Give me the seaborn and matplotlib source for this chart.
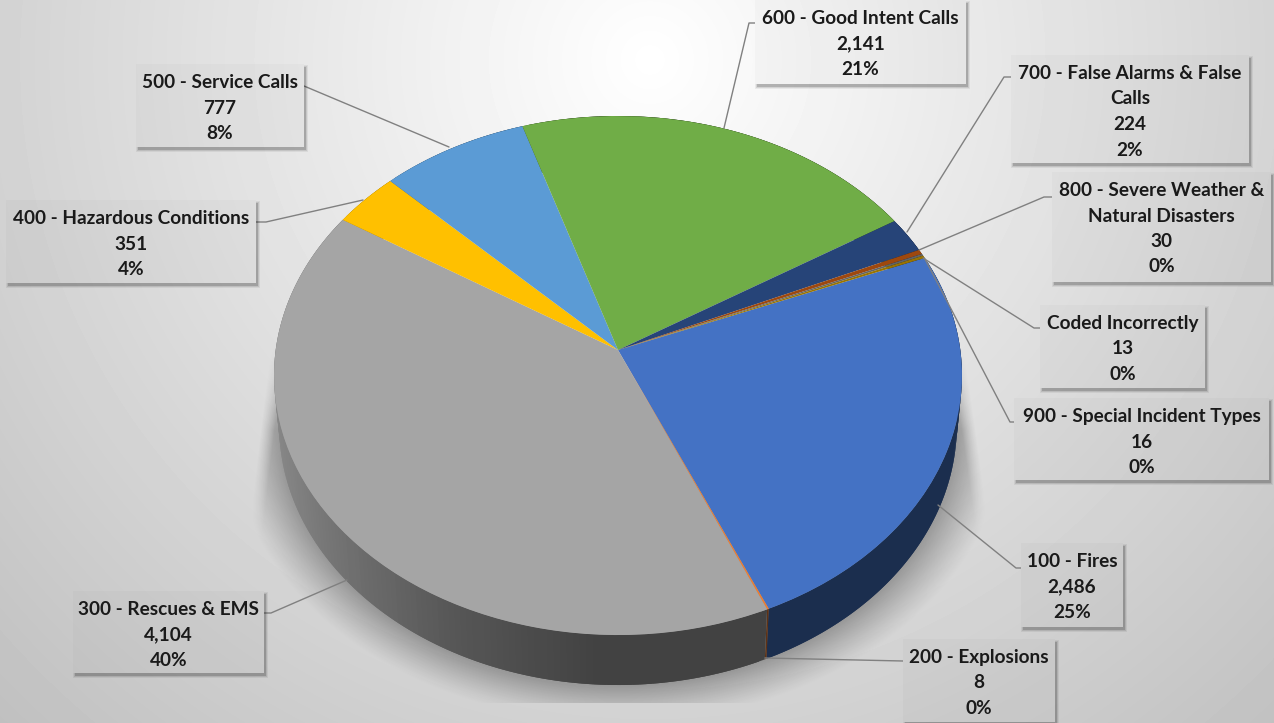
import numpy as np
import matplotlib
matplotlib.use("Agg")
import matplotlib.pyplot as plt
from matplotlib.patches import Rectangle
from matplotlib.transforms import Transform
import seaborn as sns

# Chart data, clockwise from the Fires slice
labels = [
    ["100 - Fires"],
    ["200 - Explosions"],
    ["300 - Rescues & EMS"],
    ["400 - Hazardous Conditions"],
    ["500 - Service Calls"],
    ["600 - Good Intent Calls"],
    ["700 - False Alarms & False", "Calls"],
    ["800 - Severe Weather &", "Natural Disasters"],
    ["Coded Incorrectly"],
    ["900 - Special Incident Types"],
]
values = [2486, 8, 4104, 351, 777, 2141, 224, 30, 13, 16]
percents = ["25%", "0%", "40%", "4%", "8%", "21%", "2%", "0%", "0%", "0%"]
colors = sns.color_palette(["#4472C4", "#ED7D31", "#A5A5A5", "#FFC000", "#5B9BD5",
                            "#70AD47", "#264478", "#9E480E", "#636363", "#997300"])

# Label boxes in pixels: left, top, right, bottom
boxes = [(1021, 543, 1123, 627), (903, 639, 1055, 722), (73, 591, 264, 673),
         (6, 200, 256, 283), (136, 64, 304, 147), (755, 0, 966, 84),
         (1011, 55, 1249, 163), (1052, 172, 1271, 282), (1040, 305, 1205, 388),
         (1014, 398, 1269, 480)]

# Leader lines in pixels
leaders = [[(1021, 568), (1016, 568), (938, 505)],
           [(903, 661), (765, 658)],
           [(264, 613), (271, 613), (347, 580)],
           [(256, 222), (266, 222), (363, 200)],
           [(304, 86), (449, 147)],
           [(755, 23), (749, 23), (724, 128)],
           [(1011, 77), (1004, 77), (907, 232)],
           [(1052, 197), (1044, 197), (919, 250)],
           [(1040, 328), (1034, 328), (923, 258)],
           [(1014, 422), (1010, 422), (925, 259)]]

W, H = 1274, 723
cx, cy = 618, 350
rx, ry, k = 342.3, 257, 0.0983
depth = 50
start = 21.8


def project(u, v):
    return cx + rx * u / (1 + k * v), cy - ry * v / (1 + k * v)


class Perspective(Transform):
    input_dims = 2
    output_dims = 2

    def transform_non_affine(self, values):
        x, y = project(values[:, 0], values[:, 1])
        return np.column_stack([x, y])


sns.set_theme(style="white")
plt.rcParams["font.family"] = ["Lato", "DejaVu Sans"]

fig = plt.figure(figsize=(W / 100, H / 100), dpi=100)
ax = fig.add_axes([0, 0, 1, 1])

# Background
xx, yy = np.meshgrid(np.arange(W) + 0.5, np.arange(H) + 0.5)
r = np.hypot(xx - 650, yy - 60)
back = 1 - 0.24 * r / 900
ax.imshow(back, cmap="gray", vmin=0, vmax=1, extent=(0, W, H, 0), zorder=0)

# Soft shadow under the pie
d = np.hypot((xx - cx) / 339, (yy - 425) / 259.5)
shade = 0.30 * np.clip(1 - (d - 1) / 0.15, 0, 1) ** 1.2 * np.clip((yy - 340) / 90, 0, 1)
shade = shade * np.clip((xx - (269 - (yy - 360) * 0.12)) / 14, 0, 1)
shade = shade * np.clip(((966 + (yy - 360) * 0.14) - xx) / 14, 0, 1)
shade[yy > 703] = 0
shadow = np.zeros((H, W, 4))
shadow[..., 3] = shade
ax.imshow(shadow, extent=(0, W, H, 0), zorder=1)

# Side wall, each strip runs under the next one so no seams show
angle = start
for value, color in zip(values, colors):
    sweep = value / sum(values) * 360
    thetas = np.radians(np.linspace(angle, angle - sweep, max(2, int(sweep) + 1)))
    for i in range(len(thetas) - 1):
        part = thetas[i:i + 3]
        x, y = project(np.cos(part), np.sin(part))
        xb = cx + (x - cx) * 0.985
        f = np.interp(x[0], [274, 347, 450, 600], [0.82, 0.68, 0.53, 0.40])
        ax.fill(np.r_[x, xb[::-1]], np.r_[y, y[::-1] + depth],
                facecolor=tuple(np.array(color) * f), edgecolor="none", linewidth=0, zorder=2)
    angle -= sweep

# Top of the pie
wedges, _ = ax.pie(values, colors=colors, startangle=start, counterclock=False,
                   wedgeprops={"linewidth": 0, "edgecolor": "none"})
persp = Perspective()
for w in wedges:
    w.set_transform(persp + ax.transData)
    w.set_zorder(3)

# Leader lines
for pts in leaders:
    ax.plot([p[0] for p in pts], [p[1] for p in pts], color="#808080", linewidth=1.0, zorder=4)

# Label boxes
for box, lab, value, pct in zip(boxes, labels, values, percents):
    x0, y0, x1, y1 = box
    for grow, alpha in [(2, 0.06), (1, 0.09), (0, 0.16)]:
        ax.add_patch(Rectangle((x0 + 2 - grow, y0 + 3 - grow), x1 - x0 + 2 * grow, y1 - y0 + 2 * grow,
                               facecolor="black", alpha=alpha, edgecolor="none", zorder=5))
    clip = Rectangle((x0, y0), x1 - x0, y1 - y0, transform=ax.transData)
    im = ax.imshow(back, cmap="gray", vmin=0, vmax=1, extent=(0, W, H, 0), zorder=6)
    im.set_clip_path(clip)
    ax.add_patch(Rectangle((x0, y0), x1 - x0, y1 - y0, facecolor="black", alpha=0.02,
                           edgecolor="none", zorder=7))
    lines = lab + [f"{value:,}", pct]
    for i, line in enumerate(lines):
        ax.text((x0 + x1) / 2, y0 + 18.5 + i * 25.5, line, ha="center", va="center",
                fontsize=13.7, fontweight="bold", color="#1a1a1a", zorder=8)

ax.set_aspect("auto")
ax.set_xlim(0, W)
ax.set_ylim(H, 0)
ax.axis("off")

fig.savefig("out.png", dpi=100)
